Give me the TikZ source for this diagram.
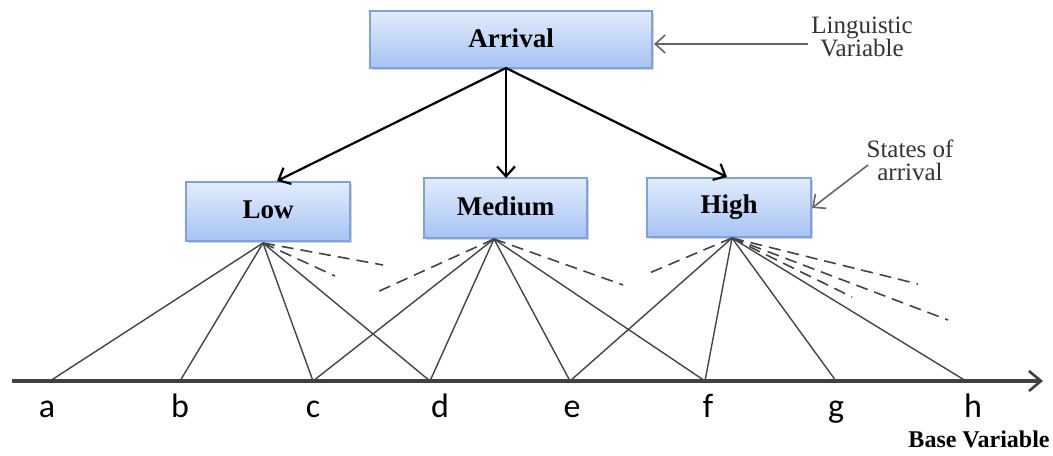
\documentclass[tikz,border=0pt]{standalone}
\usepackage{fontspec}
\setmainfont{Liberation Serif}
\newfontfamily\serifr{Liberation Serif}
\newfontfamily\calib{Carlito}
\usetikzlibrary{arrows.meta,shadows,calc}
\definecolor{boxtop}{HTML}{E2ECFD}
\definecolor{boxbot}{HTML}{A6C3F3}
\definecolor{boxline}{HTML}{7EA3DC}
\definecolor{linegray}{HTML}{444444}
\definecolor{annot}{HTML}{333333}
\tikzset{
  statebox/.style={draw=boxline, line width=0.6pt, top color=boxtop, bottom color=boxbot,
    drop shadow={shadow xshift=1.2pt, shadow yshift=-1.2pt, opacity=0.35},
    font=\serifr\bfseries\fontsize{13.5}{15}\selectfont, inner sep=0pt},
  mainarrow/.style={line width=1.1pt, black, -{Straight Barb[length=5pt,width=9pt,line width=1.1pt]}},
  notearrow/.style={line width=1pt, gray!80!black, -{Straight Barb[length=5pt,width=9pt,line width=0.8pt]}},
  memb/.style={line width=0.7pt, linegray},
  membd/.style={line width=0.8pt, linegray, dash pattern=on 6pt off 3.5pt},
  annotext/.style={font=\serifr\fontsize{12.5}{12.5}\selectfont, text=annot, align=center, inner sep=0pt},
  ticklabel/.style={font=\calib\fontsize{17}{20}\selectfont, anchor=base, inner sep=0pt},
}
\begin{document}
\begin{tikzpicture}[x=0.5pt,y=-0.5pt]
\useasboundingbox (0,0) rectangle (1053,455);
% boxes
\node[statebox, minimum width=141pt, minimum height=28.5pt] (arrival) at (511,39.5) {\raisebox{1pt}{Arrival}};
\node[statebox, minimum width=82pt, minimum height=29.5pt] (low) at (268,211.5) {\raisebox{1.5pt}{Low}};
\node[statebox, minimum width=81.5pt, minimum height=30pt] (medium) at (505.5,208) {\raisebox{2pt}{Medium}};
\node[statebox, minimum width=82pt, minimum height=29.5pt] (high) at (729,207.5) {\raisebox{2pt}{High}};
% main arrows
\coordinate (arrapex) at (506,68);
\coordinate (lowtop) at (277,181);
\coordinate (medtop) at (506,178);
\coordinate (hightop) at (727,177);
\draw[mainarrow] (arrapex) -- (lowtop);
\draw[mainarrow] (arrapex) -- (medtop);
\draw[mainarrow] (arrapex) -- (hightop);
% annotations
\node[annotext] (ling) at (862,37) {Linguistic\\[-1pt]Variable};
\coordinate (lingstart) at (808,44);
\coordinate (lingend) at (654,44);
\draw[notearrow] (lingstart) -- (lingend);
\node[annotext] (states) at (910,160) {States of\\[-1pt]arrival};
\coordinate (statesstart) at (868,165);
\coordinate (statesend) at (812,208);
\draw[notearrow, line width=0.8pt] (statesstart) -- (statesend);
% axis
\coordinate (axstart) at (12,381);
\coordinate (axend) at (1043,381);
\draw[line width=1.6pt, black!75, -{Straight Barb[length=6pt,width=10pt,line width=1.3pt]}] (axstart) -- (axend);
\foreach \n/\x in {a/50,b/180,c/313,d/430,e/570,f/705,g/836,h/966}{
  \coordinate (\n) at (\x,381);
}
\foreach \n/\x in {a/47,b/180,c/313,d/440,e/572,f/708,g/836,h/973}{
  \node[ticklabel] (lbl\n) at (\x,417) {\n};
}
\node[font=\serifr\bfseries\fontsize{12}{12}\selectfont, anchor=base east, inner sep=0pt] (basevar) at (1050,447) {Base Variable};
% apexes
\coordinate (lowapex) at (263,243);
\coordinate (medapex) at (494,239);
\coordinate (highapex) at (732,238);
% membership lines
\foreach \t in {a,b,c,d} \draw[memb] (lowapex) -- (\t);
\foreach \t in {c,d,e,f} \draw[memb] (medapex) -- (\t);
\foreach \t in {e,f,g,h} \draw[memb] (highapex) -- (\t);
% dashed lines
\coordinate (ld1) at (383,265);
\coordinate (ld2) at (335,276);
\coordinate (md1) at (375,293);
\coordinate (md2) at (623,285);
\coordinate (hd0) at (647,274);
\coordinate (hd1) at (918,284);
\coordinate (hd2) at (852,297);
\coordinate (hd3) at (948,320);
\draw[membd] (lowapex) -- (ld1);
\draw[membd] (lowapex) -- (ld2);
\draw[membd] (medapex) -- (md1);
\draw[membd] (medapex) -- (md2);
\draw[membd] (highapex) -- (hd0);
\draw[membd] (highapex) -- (hd1);
\draw[membd] (highapex) -- (hd2);
\draw[membd] (highapex) -- (hd3);
\end{tikzpicture}
\end{document}
